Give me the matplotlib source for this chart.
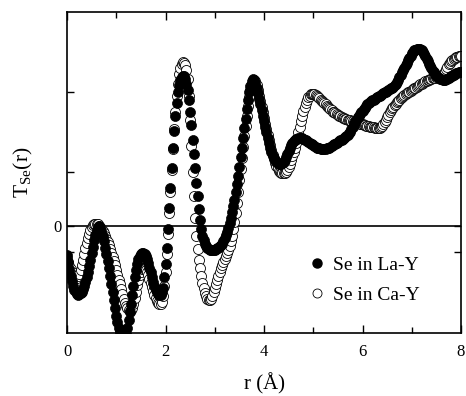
import numpy as np
import matplotlib
matplotlib.use("Agg")
import matplotlib.pyplot as plt
from matplotlib.lines import Line2D

plt.rcParams['font.family'] = ['Liberation Serif', 'DejaVu Serif']
plt.rcParams['mathtext.fontset'] = 'custom'
plt.rcParams['mathtext.rm'] = 'Liberation Serif'
plt.rcParams['mathtext.it'] = 'Liberation Serif:italic'

# r grid (Angstrom), step 0.025 from 0 to 8
r = np.round(np.arange(321) * 0.025, 3)

# Se in La-Y (filled circles)
se_la_y = [
    -0.36, -0.45, -0.54, -0.62, -0.69, -0.75, -0.80, -0.83,
    -0.85, -0.86, -0.855, -0.84, -0.82, -0.79, -0.75, -0.70,
    -0.64, -0.57, -0.50, -0.42, -0.34, -0.26, -0.18, -0.11,
    -0.05, -0.015, 0.00, -0.02, -0.06, -0.12, -0.19, -0.27,
    -0.35, -0.44, -0.53, -0.63, -0.73, -0.83, -0.93, -1.03,
    -1.12, -1.20, -1.27, -1.33, -1.38, -1.41, -1.42, -1.40,
    -1.35, -1.27, -1.18, -1.07, -0.97, -0.86, -0.75, -0.64,
    -0.55, -0.47, -0.41, -0.37, -0.345, -0.335, -0.335, -0.35,
    -0.375, -0.41, -0.46, -0.52, -0.58, -0.64, -0.70, -0.75,
    -0.795, -0.83, -0.855, -0.865, -0.86, -0.83, -0.77, -0.64,
    -0.47, -0.27, -0.04, 0.22, 0.48, 0.73, 0.97, 1.19,
    1.38, 1.54, 1.67, 1.76, 1.82, 1.86, 1.875, 1.87,
    1.84, 1.78, 1.70, 1.58, 1.43, 1.26, 1.08, 0.90,
    0.72, 0.54, 0.37, 0.21, 0.07, -0.04, -0.12, -0.18,
    -0.22, -0.25, -0.27, -0.285, -0.295, -0.30, -0.30, -0.30,
    -0.295, -0.29, -0.28, -0.27, -0.255, -0.24, -0.22, -0.19,
    -0.155, -0.115, -0.07, -0.02, 0.04, 0.10, 0.17, 0.25,
    0.33, 0.42, 0.52, 0.63, 0.74, 0.86, 0.98, 1.10,
    1.22, 1.34, 1.46, 1.57, 1.67, 1.75, 1.81, 1.84,
    1.83, 1.79, 1.73, 1.66, 1.59, 1.52, 1.45, 1.38,
    1.31, 1.24, 1.17, 1.10, 1.04, 0.98, 0.93, 0.88,
    0.85, 0.82, 0.80, 0.785, 0.775, 0.77, 0.775, 0.785,
    0.80, 0.83, 0.86, 0.90, 0.94, 0.98, 1.01, 1.04,
    1.06, 1.075, 1.085, 1.09, 1.095, 1.10, 1.10, 1.095,
    1.09, 1.08, 1.07, 1.06, 1.05, 1.04, 1.03, 1.02,
    1.01, 1.00, 0.99, 0.98, 0.975, 0.97, 0.965, 0.96,
    0.96, 0.96, 0.965, 0.97, 0.975, 0.98, 0.99, 1.00,
    1.01, 1.02, 1.03, 1.04, 1.05, 1.06, 1.07, 1.08,
    1.09, 1.10, 1.11, 1.12, 1.14, 1.16, 1.18, 1.21,
    1.24, 1.27, 1.30, 1.33, 1.36, 1.38, 1.40, 1.42,
    1.44, 1.46, 1.48, 1.50, 1.52, 1.535, 1.55, 1.56,
    1.57, 1.58, 1.59, 1.60, 1.61, 1.62, 1.63, 1.64,
    1.65, 1.66, 1.67, 1.68, 1.69, 1.70, 1.71, 1.72,
    1.73, 1.74, 1.76, 1.78, 1.80, 1.83, 1.86, 1.89,
    1.92, 1.95, 1.98, 2.01, 2.04, 2.07, 2.10, 2.13,
    2.16, 2.18, 2.195, 2.205, 2.21, 2.215, 2.215, 2.21,
    2.20, 2.18, 2.15, 2.12, 2.09, 2.06, 2.03, 2.00,
    1.97, 1.94, 1.92, 1.90, 1.88, 1.865, 1.85, 1.84,
    1.835, 1.83, 1.83, 1.83, 1.835, 1.84, 1.85, 1.86,
    1.87, 1.88, 1.89, 1.90, 1.91, 1.915, 1.92, 1.925,
    1.93,
]

# Se in Ca-Y (open circles)
se_ca_y = [
    -0.40, -0.45, -0.50, -0.54, -0.58, -0.61, -0.63, -0.645,
    -0.645, -0.63, -0.60, -0.55, -0.49, -0.42, -0.35, -0.28,
    -0.21, -0.15, -0.10, -0.05, -0.01, 0.01, 0.025, 0.03,
    0.03, 0.02, 0.005, -0.015, -0.04, -0.06, -0.09, -0.12,
    -0.16, -0.20, -0.24, -0.29, -0.34, -0.39, -0.44, -0.49,
    -0.55, -0.61, -0.67, -0.73, -0.79, -0.85, -0.91, -0.96,
    -1.00, -1.03, -1.05, -1.06, -1.05, -1.02, -0.97, -0.90,
    -0.82, -0.74, -0.67, -0.61, -0.57, -0.54, -0.53, -0.53,
    -0.545, -0.57, -0.61, -0.66, -0.71, -0.76, -0.81, -0.86,
    -0.90, -0.935, -0.96, -0.975, -0.975, -0.95, -0.88, -0.75,
    -0.57, -0.35, -0.10, 0.16, 0.43, 0.70, 0.96, 1.21,
    1.43, 1.62, 1.78, 1.90, 1.98, 2.03, 2.05, 2.04,
    2.01, 1.95, 1.84, 1.62, 1.32, 1.00, 0.68, 0.38,
    0.10, -0.12, -0.29, -0.42, -0.53, -0.63, -0.71, -0.78,
    -0.84, -0.88, -0.91, -0.93, -0.93, -0.915, -0.88, -0.83,
    -0.77, -0.72, -0.67, -0.62, -0.57, -0.53, -0.49, -0.45,
    -0.41, -0.375, -0.34, -0.30, -0.25, -0.19, -0.12, -0.04,
    0.05, 0.16, 0.29, 0.43, 0.57, 0.71, 0.85, 0.99,
    1.12, 1.25, 1.38, 1.50, 1.61, 1.70, 1.77, 1.81,
    1.83, 1.81, 1.76, 1.70, 1.63, 1.56, 1.49, 1.42,
    1.35, 1.28, 1.21, 1.14, 1.07, 1.01, 0.95, 0.89,
    0.84, 0.79, 0.75, 0.72, 0.69, 0.675, 0.665, 0.66,
    0.66, 0.665, 0.68, 0.70, 0.74, 0.78, 0.82, 0.87,
    0.92, 0.98, 1.04, 1.10, 1.17, 1.24, 1.31, 1.38,
    1.44, 1.49, 1.54, 1.58, 1.61, 1.63, 1.645, 1.655,
    1.655, 1.65, 1.64, 1.625, 1.61, 1.595, 1.58, 1.565,
    1.55, 1.535, 1.52, 1.505, 1.49, 1.475, 1.46, 1.445,
    1.43, 1.42, 1.41, 1.40, 1.39, 1.38, 1.37, 1.36,
    1.35, 1.345, 1.34, 1.335, 1.33, 1.325, 1.32, 1.315,
    1.31, 1.305, 1.30, 1.295, 1.29, 1.285, 1.28, 1.275,
    1.27, 1.265, 1.26, 1.255, 1.25, 1.245, 1.24, 1.24,
    1.235, 1.235, 1.23, 1.23, 1.23, 1.23, 1.23, 1.235,
    1.25, 1.27, 1.30, 1.33, 1.36, 1.39, 1.42, 1.45,
    1.47, 1.49, 1.51, 1.53, 1.55, 1.565, 1.58, 1.595,
    1.61, 1.625, 1.64, 1.65, 1.66, 1.67, 1.68, 1.69,
    1.70, 1.71, 1.72, 1.73, 1.74, 1.75, 1.76, 1.77,
    1.78, 1.79, 1.80, 1.81, 1.815, 1.82, 1.83, 1.835,
    1.84, 1.845, 1.85, 1.855, 1.86, 1.865, 1.87, 1.875,
    1.88, 1.89, 1.91, 1.93, 1.96, 1.99, 2.02, 2.04,
    2.06, 2.08, 2.09, 2.10, 2.11, 2.115, 2.12, 2.12,
    2.12,
]

series_labels = ["Se in La-Y", "Se in Ca-Y"]
x_ticks = [0, 2, 4, 6, 8]
x_minor = [1, 3, 5, 7]
y_ticks = [-0.325, 0, 0.675, 1.675]
y_ticklabels = ["", "0", "", ""]

fig = plt.figure(figsize=(4.66, 3.96), dpi=100)
ax = fig.add_axes([67 / 466, 63 / 396, 394 / 466, 321 / 396])

ax.plot(r, se_ca_y, linestyle='none', marker='o', markersize=7.2,
        markerfacecolor='white', markeredgecolor='black', markeredgewidth=0.6,
        zorder=2, label=series_labels[1])
ax.plot(r, se_la_y, linestyle='none', marker='o', markersize=7.2,
        markerfacecolor='black', markeredgecolor='black', markeredgewidth=0.5,
        zorder=3, label=series_labels[0])

ax.axhline(0, color='black', linewidth=1.2, zorder=1)

ax.set_xlim(0, 8)
ax.set_ylim(-1.3375, 2.675)
ax.set_xticks(x_ticks)
ax.set_xticks(x_minor, minor=True)
ax.set_yticks(y_ticks)
ax.set_yticklabels(y_ticklabels)

ax.tick_params(axis='both', which='both', direction='in', top=True, right=True,
               width=1.0, labelsize=12)
ax.tick_params(axis='x', which='major', length=6, pad=8)
ax.tick_params(axis='x', which='minor', length=4)
ax.tick_params(axis='y', which='major', length=5, pad=4)
for s in ax.spines.values():
    s.set_linewidth(1.2)

ax.set_xlabel("r (Å)", fontsize=15, labelpad=9)
ax.set_ylabel(r"T$_{\mathrm{Se}}$(r)", fontsize=15.5, labelpad=13)

handles = [
    Line2D([], [], linestyle='none', marker='o', markersize=6.5,
           markerfacecolor='black', markeredgecolor='black'),
    Line2D([], [], linestyle='none', marker='o', markersize=6.5,
           markerfacecolor='white', markeredgecolor='black', markeredgewidth=0.6),
]
ax.legend(handles, series_labels, loc='upper left', bbox_to_anchor=(0.62, 0.24),
          frameon=False, fontsize=14, handlelength=0.6, handletextpad=0.5,
          labelspacing=0.65, borderpad=0, borderaxespad=0)

fig.savefig("out.png", dpi=100)
